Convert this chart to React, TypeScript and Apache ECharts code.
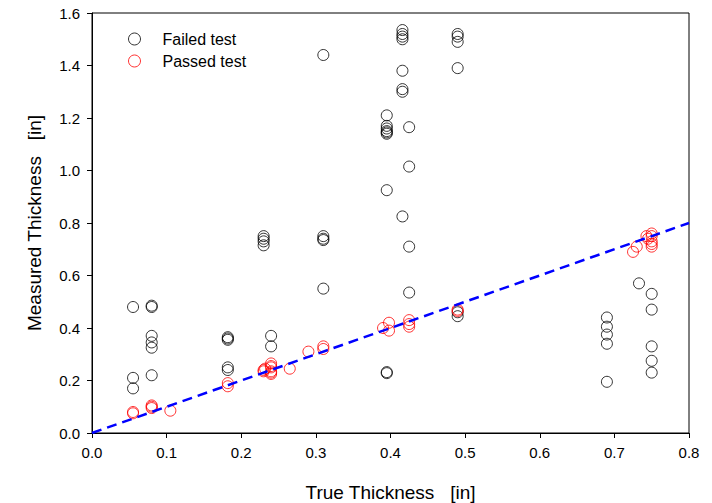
import React, { useEffect, useRef } from "react";
import * as echarts from "echarts";

const xTicks = [0, 0.1, 0.2, 0.3, 0.4, 0.5, 0.6, 0.7, 0.8];
const yTicks = [0, 0.2, 0.4, 0.6, 0.8, 1.0, 1.2, 1.4, 1.6];

const failedX = [
  0.055, 0.055, 0.055,
  0.08, 0.08, 0.08, 0.08, 0.08, 0.08,
  0.182, 0.182, 0.182, 0.182, 0.182,
  0.23, 0.23, 0.23, 0.23,
  0.24, 0.24,
  0.31, 0.31, 0.31, 0.31, 0.31,
  0.395, 0.395, 0.395, 0.395, 0.395, 0.395, 0.395, 0.395, 0.395,
  0.416, 0.416, 0.416, 0.416, 0.416, 0.416, 0.416, 0.416,
  0.425, 0.425, 0.425, 0.425,
  0.49, 0.49, 0.49, 0.49, 0.49, 0.49,
  0.69, 0.69, 0.69, 0.69, 0.69,
  0.733,
  0.75, 0.75, 0.75, 0.75, 0.75,
];
const failedY = [
  0.48, 0.21, 0.17,
  0.485, 0.48, 0.37, 0.345, 0.325, 0.22,
  0.365, 0.36, 0.355, 0.25, 0.24,
  0.75, 0.74, 0.73, 0.715,
  0.37, 0.33,
  1.44, 0.75, 0.74, 0.735, 0.55,
  1.21, 1.17, 1.16, 1.15, 1.14, 1.145, 0.925, 0.232, 0.228,
  1.535, 1.52, 1.51, 1.50, 1.38, 1.31, 1.30, 0.825,
  1.165, 1.015, 0.71, 0.535,
  1.52, 1.51, 1.49, 1.39, 0.46, 0.445,
  0.44, 0.405, 0.375, 0.34, 0.195,
  0.57,
  0.53, 0.47, 0.33, 0.275, 0.23,
];

const passedX = [
  0.055, 0.055,
  0.08, 0.08, 0.08,
  0.105,
  0.182, 0.182,
  0.23, 0.23, 0.232,
  0.24, 0.24, 0.24, 0.24, 0.24, 0.24,
  0.265,
  0.29,
  0.31, 0.31,
  0.39,
  0.398, 0.398,
  0.425, 0.425, 0.425,
  0.49, 0.49,
  0.725, 0.73,
  0.743, 0.745,
  0.75, 0.75, 0.75, 0.75, 0.75,
];
const passedY = [
  0.075, 0.08,
  0.105, 0.095, 0.1,
  0.085,
  0.19, 0.178,
  0.24, 0.235, 0.245,
  0.265, 0.255, 0.25, 0.235, 0.225, 0.23,
  0.245,
  0.31,
  0.33, 0.32,
  0.40,
  0.42, 0.39,
  0.43, 0.415, 0.405,
  0.47, 0.465,
  0.69, 0.71,
  0.75, 0.74,
  0.76, 0.75, 0.73, 0.71, 0.72,
];

const lineX = [0, 0.8];
const lineY = [0, 0.8];

export default function App() {
  const ref = useRef<HTMLDivElement>(null);
  useEffect(() => {
    if (!ref.current) return;
    const chart = echarts.init(ref.current, undefined, { renderer: "svg" });
    const font = "'Liberation Sans', Arial, sans-serif";
    const axisCommon = {
      axisLine: { show: true, onZero: false, lineStyle: { color: "#000", width: 1 } },
      axisTick: { show: true, inside: false, length: 5, lineStyle: { color: "#000" } },
      splitLine: { show: false },
      axisLabel: { color: "#000", fontSize: 15, fontFamily: font, formatter: (v: number) => v.toFixed(1) },
      nameTextStyle: { color: "#000", fontSize: 19, fontFamily: font },
    };
    chart.setOption({
      animation: false,
      backgroundColor: "#fff",
      textStyle: { fontFamily: font },
      grid: {
        left: 92, right: 23, top: 13, bottom: 70,
        outerBoundsMode: "none",
        containLabel: false,
        show: true, borderColor: "#000", borderWidth: 1, backgroundColor: "transparent",
      },
      legend: {
        orient: "vertical",
        left: 123,
        top: 26,
        itemGap: 6,
        itemWidth: 12,
        itemHeight: 12,
        textStyle: { fontSize: 16, color: "#000", fontFamily: font, padding: [0, 0, 0, 17] },
        data: [
          { name: "Failed test", icon: "circle", itemStyle: { color: "transparent", borderColor: "#000", borderWidth: 1 } },
          { name: "Passed test", icon: "circle", itemStyle: { color: "transparent", borderColor: "#ff0000", borderWidth: 1 } },
        ],
      },
      xAxis: {
        type: "value",
        min: 0,
        max: 0.8,
        interval: 0.1,
        name: "True Thickness   [in]",
        nameLocation: "middle",
        nameGap: 50,
        ...axisCommon,
        axisLabel: { ...axisCommon.axisLabel, margin: 12 },
      },
      yAxis: {
        type: "value",
        min: 0,
        max: 1.6,
        interval: 0.2,
        name: "Measured Thickness   [in]",
        nameLocation: "middle",
        nameGap: 48,
        ...axisCommon,
        axisLabel: { ...axisCommon.axisLabel, margin: 12 },
      },
      series: [
        {
          name: "Failed test",
          type: "scatter",
          symbol: "circle",
          symbolSize: 11,
          itemStyle: { color: "transparent", borderColor: "#000", borderWidth: 1 },
          data: failedX.map((x, i) => [x, failedY[i]]),
          z: 3,
        },
        {
          name: "Passed test",
          type: "scatter",
          symbol: "circle",
          symbolSize: 11,
          itemStyle: { color: "transparent", borderColor: "#ff0000", borderWidth: 1 },
          data: passedX.map((x, i) => [x, passedY[i]]),
          z: 4,
        },
        {
          name: "Fit",
          type: "line",
          symbol: "none",
          lineStyle: { color: "#0000ff", width: 2.5, type: [10, 6] },
          data: lineX.map((x, i) => [x, lineY[i]]),
          z: 5,
          silent: true,
        },
      ],
    });
    return () => chart.dispose();
  }, []);
  return <div ref={ref} style={{ width: 712, height: 503, position: "absolute", left: 0, top: 0 }} />;
}
